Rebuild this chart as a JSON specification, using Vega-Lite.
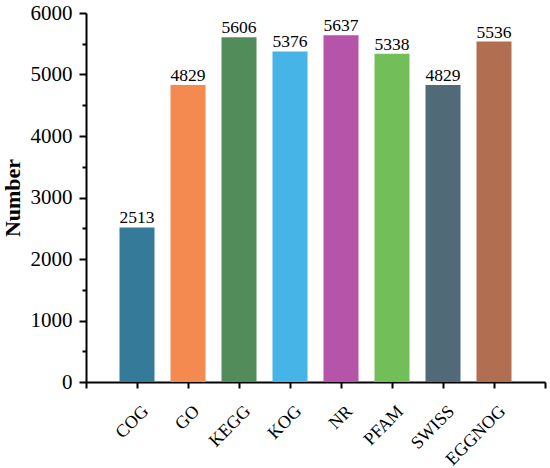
{
  "$schema": "https://vega.github.io/schema/vega-lite/v6.json",
  "width": 459,
  "height": 369,
  "autosize": "none",
  "padding": {"left": 86, "top": 13, "right": 5, "bottom": 86},
  "background": "white",
  "config": {
    "view": {"stroke": null},
    "font": "Liberation Serif",
    "axis": {"grid": false, "domainColor": "black", "tickColor": "black", "domainWidth": 2, "tickWidth": 2, "labelColor": "black", "titleColor": "black", "labelFont": "Liberation Serif", "titleFont": "Liberation Serif"}
  },
  "data": {
    "values": [
      {"db": "COG", "count": 2513},
      {"db": "GO", "count": 4829},
      {"db": "KEGG", "count": 5606},
      {"db": "KOG", "count": 5376},
      {"db": "NR", "count": 5637},
      {"db": "PFAM", "count": 5338},
      {"db": "SWISS", "count": 4829},
      {"db": "EGGNOG", "count": 5536}
    ]
  },
  "encoding": {
    "x": {
      "field": "db",
      "type": "nominal",
      "sort": null,
      "scale": {
        "type": "point",
        "padding": 0,
        "domain": ["_start", "COG", "GO", "KEGG", "KOG", "NR", "PFAM", "SWISS", "EGGNOG", "_end"]
      },
      "axis": {
        "title": null,
        "labelAngle": -45,
        "labelAlign": "right",
        "labelBaseline": "top",
        "labelFontSize": 18,
        "labelPadding": 14,
        "labelOffset": 2,
        "tickSize": 6,
        "labelExpr": "datum.label[0] === '_' ? '' : datum.label"
      }
    },
    "y": {
      "field": "count",
      "type": "quantitative",
      "scale": {"domain": [0, 6000], "nice": false},
      "axis": {
        "title": "Number",
        "titleFontSize": 22,
        "titleFontWeight": "bold",
        "titlePadding": 6,
        "labelFontSize": 21,
        "labelPadding": 7,
        "values": [0, 500, 1000, 1500, 2000, 2500, 3000, 3500, 4000, 4500, 5000, 5500, 6000],
        "labelExpr": "datum.value % 1000 === 0 ? datum.label : ''",
        "format": "d",
        "tickSize": {"condition": {"test": "datum.value % 1000 === 0", "value": 7}, "value": 4}
      }
    }
  },
  "layer": [
    {
      "mark": {"type": "bar", "width": 35},
      "encoding": {
        "color": {
          "field": "db",
          "type": "nominal",
          "legend": null,
          "scale": {
            "domain": ["COG", "GO", "KEGG", "KOG", "NR", "PFAM", "SWISS", "EGGNOG"],
            "range": ["#367A9A", "#F48A50", "#528C5A", "#46B4E6", "#B554A9", "#72BE58", "#506A78", "#B16E50"]
          }
        }
      }
    },
    {
      "mark": {"type": "text", "baseline": "alphabetic", "dy": -4, "fontSize": 17.5, "color": "black"},
      "encoding": {
        "text": {"field": "count", "type": "quantitative", "format": "d"}
      }
    }
  ]
}
